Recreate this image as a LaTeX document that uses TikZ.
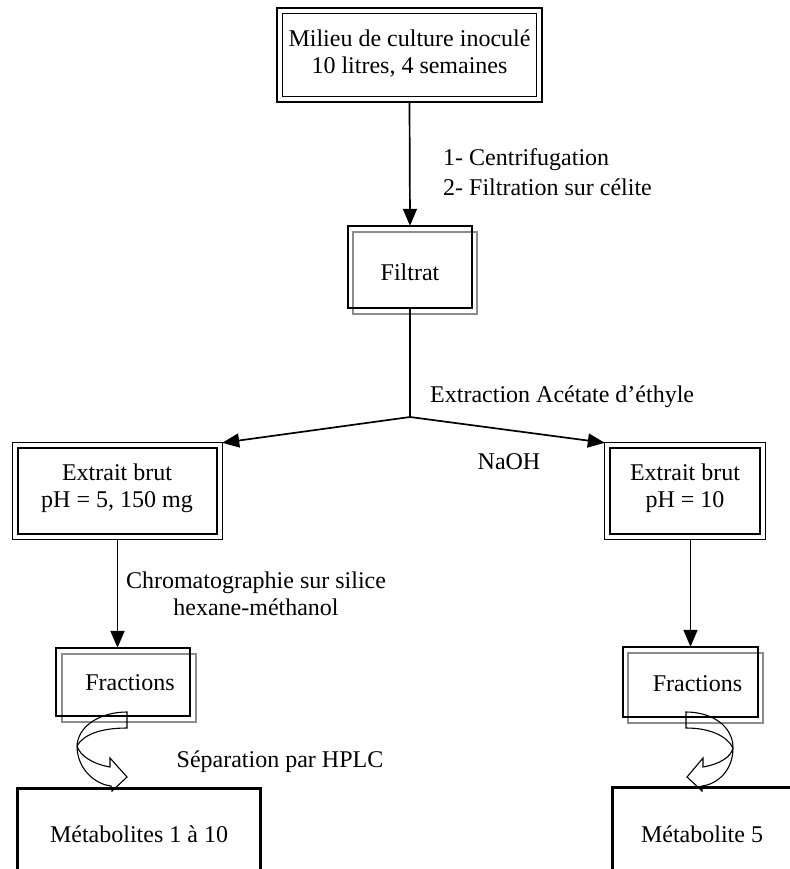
\documentclass[tikz,border=0pt]{standalone}
\usepackage{fontspec}
\setmainfont{Liberation Serif}
\usetikzlibrary{arrows.meta}
\begin{document}
\begin{tikzpicture}[x=1pt,y=-1pt,
  txt/.style={font=\fontsize{24}{27}\selectfont, inner sep=0pt, align=center},
  boxn/.style={draw=none, inner sep=0pt, minimum width=#1},
  arr/.style={line width=1.7pt, -{Triangle[length=17pt,width=14pt]}},
  ln/.style={line width=1.7pt},
  thickframe/.style={line width=2.4pt},
  thinframe/.style={line width=1.2pt},
  grayframe/.style={line width=1.8pt, draw=black!45},
  blackframe/.style={line width=2pt},
  metframe/.style={line width=2.8pt},
  curv/.style={line width=1.1pt, line join=miter}
]
\useasboundingbox (0,0) rectangle (789,869);

% Top box
\node[boxn=265pt, minimum height=94pt] (milieu) at (409.5,55) {};
\draw[thickframe] (milieu.north west) rectangle (milieu.south east);
\draw[thinframe] ([shift={(6,6)}]milieu.north west) rectangle ([shift={(-6,-6)}]milieu.south east);
\node[txt] (milieuT) at (409.5,54) {Milieu de culture inoculé\\10 litres, 4 semaines};

% Filtrat
\node[boxn=124pt, minimum height=82pt] (filtrat) at (410,267) {};
\draw[grayframe] ([shift={(5,6)}]filtrat.north west) rectangle ([shift={(5,6)}]filtrat.south east);
\draw[blackframe] (filtrat.north west) rectangle (filtrat.south east);
\node[txt] (filtratT) at (410,272) {Filtrat};

\draw[arr] (milieu.south) -- (filtrat.north);
\node[txt, anchor=west] (op1) at (443,160) {1- Centrifugation};
\node[txt, anchor=west] (op2) at (443,187) {2- Filtration sur célite};

% Junction
\coordinate (jn) at (410,417);
\draw[ln] (filtrat.south) -- (jn);
\node[txt, anchor=west] (extr) at (430,397) {Extraction Acétate d’éthyle};

% Extrait boxes
\node[boxn=209pt, minimum height=96pt] (ext1) at (117.5,491) {};
\draw[thinframe] (ext1.north west) rectangle (ext1.south east);
\draw[thickframe] ([shift={(5,5)}]ext1.north west) rectangle ([shift={(-5,-5)}]ext1.south east);
\node[txt] (ext1T) at (117,488.5) {Extrait brut\\pH = 5, 150 mg};

\node[boxn=160pt, minimum height=96pt] (ext2) at (685,491) {};
\draw[thinframe] (ext2.north west) rectangle (ext2.south east);
\draw[thickframe] ([shift={(5,5)}]ext2.north west) rectangle ([shift={(-5,-5)}]ext2.south east);
\node[txt] (ext2T) at (685,488.5) {Extrait brut\\pH = 10};

\draw[arr] (jn) -- (ext1.north east);
\draw[arr] (jn) -- (ext2.north west);
\node[txt] (naoh) at (509,462) {NaOH};

% Fractions
\node[boxn=134pt, minimum height=68pt] (frac1) at (123,682) {};
\draw[grayframe] ([shift={(6,6)}]frac1.north west) rectangle ([shift={(6,6)}]frac1.south east);
\draw[blackframe] (frac1.north west) rectangle (frac1.south east);
\node[txt] (frac1T) at (130,683) {Fractions};

\node[boxn=135pt, minimum height=70pt] (frac2) at (690.5,682) {};
\draw[grayframe] ([shift={(5,6)}]frac2.north west) rectangle ([shift={(5,6)}]frac2.south east);
\draw[blackframe] (frac2.north west) rectangle (frac2.south east);
\node[txt] (frac2T) at (697.5,684) {Fractions};

\draw[arr] (ext1.south) -- (ext1.south |- frac1.north);
\draw[arr] (frac2.north |- ext2.south) -- (frac2.north);
\node[txt] (chrom) at (256,593.5) {Chromatographie sur silice\\hexane-méthanol};

% Metabolites
\node[boxn=242pt, minimum height=84pt] (met1) at (139,831) {};
\draw[metframe] (met1.north west) rectangle (met1.south east);
\node[txt] (met1T) at (139,834) {Métabolites 1 à 10};

\node[boxn=190pt, minimum height=84pt] (met2) at (708,830) {};
\draw[metframe] (met2.north west) rectangle (met2.south east);
\node[txt] (met2T) at (702,834) {Métabolite 5};

\node[txt] (hplc) at (280,762) {Séparation par HPLC};

% Curved block arrows
\draw[curv] (127,712) .. controls (100,712) and (78,726) .. (77,746)
  .. controls (77,768) and (94,784) .. (111,786) -- (112,791) -- (127,777) -- (110,758) -- (110,767)
  .. controls (93,764) and (80,756) .. (77,746)
  .. controls (83,735) and (100,728) .. (127,728) -- cycle;
\draw[curv] (686,712) .. controls (712,712) and (733,726) .. (733,748)
  .. controls (733,770) and (718,784) .. (702,786) -- (702,791) -- (687,777) -- (703,758) -- (703,767)
  .. controls (720,764) and (731,757) .. (733,748)
  .. controls (727,736) and (710,728) .. (686,728) -- cycle;
\end{tikzpicture}
\end{document}
